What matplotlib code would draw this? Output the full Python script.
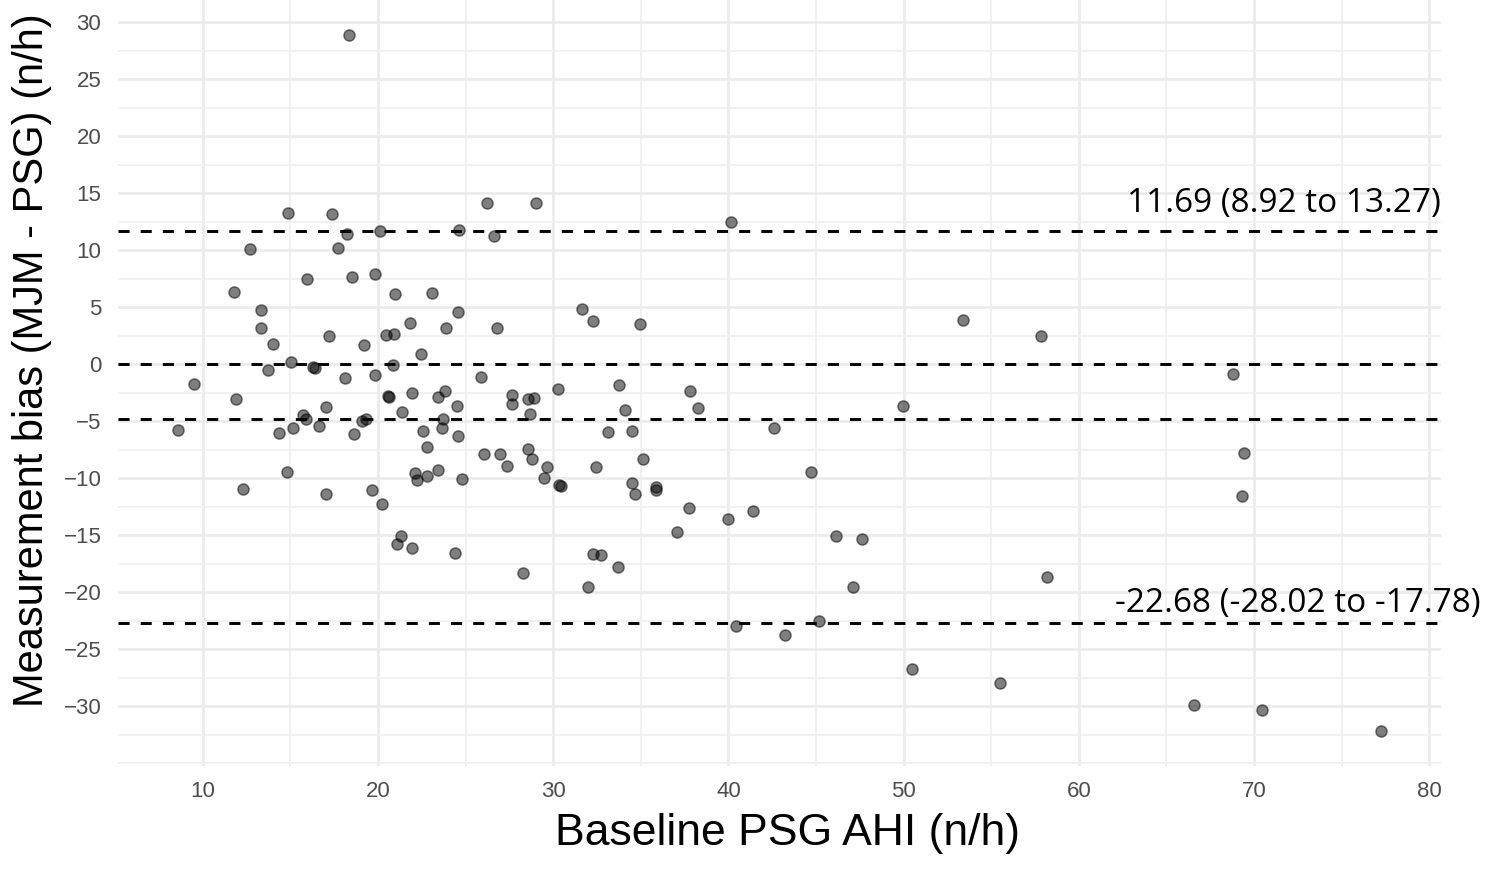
import numpy as np
import matplotlib.pyplot as plt
from matplotlib.ticker import FixedLocator

#%%
# baseline PSG AHI (n/h) and bias MJM - PSG (n/h) per subject
ahi = [18.36, 14.84, 17.35, 18.23, 20.10, 24.60, 26.20, 26.60, 12.70, 17.70,
       11.77, 15.96, 18.53, 19.83, 20.99, 23.09, 13.33, 13.33, 24.59, 21.81,
       23.90, 26.80, 14.02, 17.18, 19.20, 20.46, 20.90, 22.44, 15.03, 16.30,
       16.40, 20.88, 13.70, 9.50, 18.11, 19.81, 25.89, 11.92, 17.05, 20.55,
       20.60, 21.92, 23.43, 23.83, 24.50, 27.62, 27.64, 21.39, 15.70, 15.89,
       19.07, 19.33, 23.73, 23.66, 8.59, 15.14, 16.63, 14.34, 18.61, 22.59,
       24.59, 22.80, 26.07, 26.99, 27.38, 14.82, 22.13, 22.25, 22.78, 23.43,
       24.78, 12.32, 17.01, 19.68, 20.25, 21.33, 21.09, 21.96, 24.42, 29.00,
       40.17, 31.66, 32.25, 34.95, 30.27, 33.77, 37.81, 28.55, 28.90, 28.67,
       34.11, 38.27, 42.59, 33.10, 34.50, 28.57, 28.80, 29.66, 29.49, 30.35,
       30.42, 32.46, 35.14, 34.51, 34.65, 35.85, 35.87, 44.74, 37.77, 39.98,
       41.41, 37.07, 46.15, 47.60, 28.27, 32.27, 32.70, 33.70, 31.98, 47.09,
       40.44, 43.22, 45.18, 50.49, 53.41, 57.83, 68.77, 49.98, 69.42, 69.30,
       58.17, 55.48, 66.58, 70.46, 77.24]
bias = [28.89, 13.30, 13.19, 11.38, 11.70, 11.80, 14.10, 11.25, 10.06, 10.18,
        6.29, 7.46, 7.63, 7.89, 6.11, 6.20, 4.71, 3.16, 4.56, 3.63,
        3.19, 3.15, 1.81, 2.46, 1.72, 2.54, 2.60, 0.88, 0.20, -0.28,
        -0.38, -0.09, -0.50, -1.78, -1.23, -0.99, -1.17, -3.10, -3.80, -2.80,
        -2.88, -2.51, -2.84, -2.34, -3.68, -2.72, -3.50, -4.18, -4.44, -4.79,
        -5.03, -4.79, -4.77, -5.61, -5.76, -5.64, -5.44, -6.08, -6.14, -5.85,
        -6.29, -7.25, -7.87, -7.92, -8.95, -9.47, -9.56, -10.20, -9.80, -9.27,
        -10.06, -10.96, -11.40, -11.08, -12.30, -15.09, -15.76, -16.17, -16.55, 14.15,
        12.46, 4.85, 3.80, 3.54, -2.22, -1.81, -2.37, -3.10, -3.00, -4.36,
        -4.04, -3.89, -5.56, -5.94, -5.88, -7.40, -8.33, -9.00, -9.97, -10.60,
        -10.68, -9.06, -8.33, -10.44, -11.43, -10.76, -11.05, -9.44, -12.60, -13.60,
        -12.86, -14.74, -15.09, -15.32, -18.30, -16.64, -16.75, -17.75, -19.59, -19.59,
        -22.98, -23.74, -22.51, -26.75, 3.89, 2.46, -0.88, -3.68, -7.81, -11.58,
        -18.66, -28.01, -29.88, -30.38, -32.19]

# limits of agreement with 95% CI
upper_loa = 11.69
upper_ci = (8.92, 13.27)
lower_loa = -22.68
lower_ci = (-28.02, -17.78)
mean_bias = -4.85

x_ticks = [10, 20, 30, 40, 50, 60, 70, 80]
y_ticks = [-30, -25, -20, -15, -10, -5, 0, 5, 10, 15, 20, 25, 30]

#%%
plt.rcParams['font.family'] = ['Liberation Sans', 'DejaVu Sans']

fig = plt.figure(figsize=(14.86, 8.73), dpi=100)
ax = fig.add_axes([118/1486, 1 - 765.9/873, 1323/1486, 765.9/873])

ax.scatter(ahi, bias, s=64, color='black', alpha=0.5, linewidths=1.1,
           edgecolors='black', zorder=3)

for yv in [upper_loa, 0, mean_bias, lower_loa]:
    ax.axhline(yv, color='black', lw=2.1, linestyle=(0, (3.8, 3.8)), zorder=2)

ax.text(62.73, 13.33, '%.2f (%.2f to %.2f)' % (upper_loa, upper_ci[0], upper_ci[1]),
        family='Open Sans', fontsize=24, ha='left', va='baseline', clip_on=False)
ax.text(62.05, -21.75, '%.2f (%.2f to %.2f)' % (lower_loa, lower_ci[0], lower_ci[1]),
        family='Open Sans', fontsize=24, ha='left', va='baseline', clip_on=False)

ax.set_xlim(5.16, 80.67)
ax.set_ylim(-35.24, 31.94)
ax.set_xticks(x_ticks)
ax.set_yticks(y_ticks)
ax.xaxis.set_minor_locator(FixedLocator(np.arange(15, 80, 10)))
ax.yaxis.set_minor_locator(FixedLocator(np.arange(-35, 30, 2.5)))

ax.grid(which='major', color='#EBEBEB', lw=1.9, zorder=0)
ax.grid(which='minor', color='#EFEFEF', lw=1.2, zorder=0)
ax.set_axisbelow(True)
for s in ax.spines.values():
    s.set_visible(False)
ax.tick_params(which='both', length=0)
ax.tick_params(axis='both', labelsize=16, labelcolor='#4D4D4D')
ax.tick_params(axis='y', pad=12)
ax.tick_params(axis='x', pad=11)

ax.set_xlabel('Baseline PSG AHI (n/h)', fontsize=32)
ax.set_ylabel('Measurement bias (MJM - PSG) (n/h)', fontsize=30)
ax.xaxis.set_label_coords(0.506, -0.062)
ax.yaxis.set_label_coords(-0.05, 0.53)

plt.savefig('out.png', dpi=100)
